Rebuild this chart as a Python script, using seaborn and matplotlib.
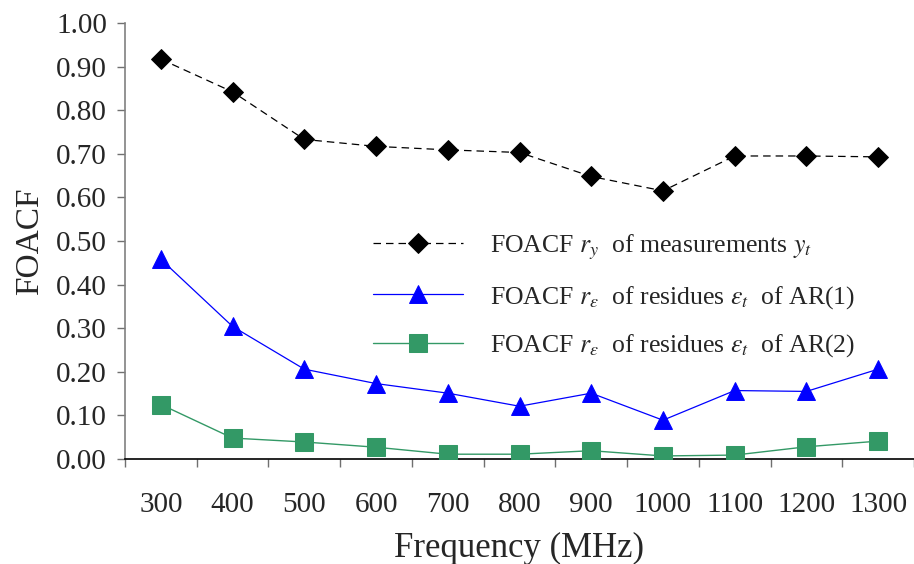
import numpy as np
import pandas as pd
import matplotlib
matplotlib.use("Agg")
import matplotlib.pyplot as plt
import seaborn as sns

# ------------------------------------------------------------
# Données
# ------------------------------------------------------------
freqs = ["300", "400", "500", "600", "700", "800", "900", "1000", "1100", "1200", "1300"]
foacf_meas = [0.917, 0.842, 0.733, 0.717, 0.709, 0.703, 0.648, 0.615, 0.695, 0.695, 0.693]
foacf_ar1  = [0.458, 0.304, 0.206, 0.173, 0.151, 0.121, 0.151, 0.089, 0.157, 0.155, 0.206]
foacf_ar2  = [0.125, 0.048, 0.039, 0.027, 0.011, 0.011, 0.019, 0.007, 0.009, 0.028, 0.041]

labels = [r"FOACF $r_y$  of measurements $y_t$",
          r"FOACF $r_\varepsilon$  of residues $\varepsilon_t$  of AR(1)",
          r"FOACF $r_\varepsilon$  of residues $\varepsilon_t$  of AR(2)"]

sns.set_style("white")
plt.rcParams["font.family"] = "serif"
plt.rcParams["font.serif"] = ["Liberation Serif", "DejaVu Serif"]
plt.rcParams["mathtext.fontset"] = "stix"

fig = plt.figure(figsize=(9.14, 5.64), dpi=100)
ax = fig.add_axes([125 / 914, 1 - 459 / 564, 1 - 125 / 914, (459 - 23) / 564])

sns.pointplot(x=freqs, y=foacf_meas, ax=ax, color="black", marker="D",
              markersize=10, linestyle="--", linewidth=0.9, errorbar=None,
              label=labels[0])
sns.pointplot(x=freqs, y=foacf_ar1, ax=ax, color="#0000FF", marker="^",
              markersize=13.5, linestyle="-", linewidth=0.9, errorbar=None,
              label=labels[1])
sns.pointplot(x=freqs, y=foacf_ar2, ax=ax, color="#339966", marker="s",
              markersize=12.5, linestyle="-", linewidth=1.0, errorbar=None,
              label=labels[2])

ax.lines[0].set_dashes([6, 4])
for ln in ax.lines:
    ln.set_zorder(3)

ax.set_xlim(-0.5, 10.46)
ax.set_ylim(0, 1.0)
ax.set_yticks(np.arange(0, 1.01, 0.1))
ax.set_yticklabels([f"{v:.2f}" for v in np.arange(0, 1.01, 0.1)])
ax.set_xticks(np.arange(len(freqs)))
ax.set_xticklabels(freqs)

# ticks between categories on the x axis
ax.set_xticks(np.arange(-0.5, len(freqs), 1.0), minor=True)
ax.tick_params(axis="x", which="major", length=0, pad=24, labelsize=21)
ax.tick_params(axis="x", which="minor", length=6, width=1, color="#707070",
               direction="out", bottom=True)
ax.tick_params(axis="y", length=6, width=1, color="#707070", direction="out",
               left=True, pad=7, labelsize=21)

sns.despine(ax=ax)
ax.spines["left"].set_color("#808080")
ax.spines["left"].set_linewidth(1.2)
ax.spines["bottom"].set_color("black")
ax.spines["bottom"].set_linewidth(1.2)

ax.set_xlabel("Frequency (MHz)", fontsize=25, labelpad=10)
ax.set_ylabel("FOACF", fontsize=24, labelpad=8)

leg = ax.legend(loc="center left", bbox_to_anchor=(363 / 914, 1 - 296 / 564),
                bbox_transform=fig.transFigure, frameon=False, fontsize=18.5,
                handlelength=3.5, handletextpad=1.05, labelspacing=0.85,
                borderaxespad=0)

fig.savefig("out.png", dpi=100)
